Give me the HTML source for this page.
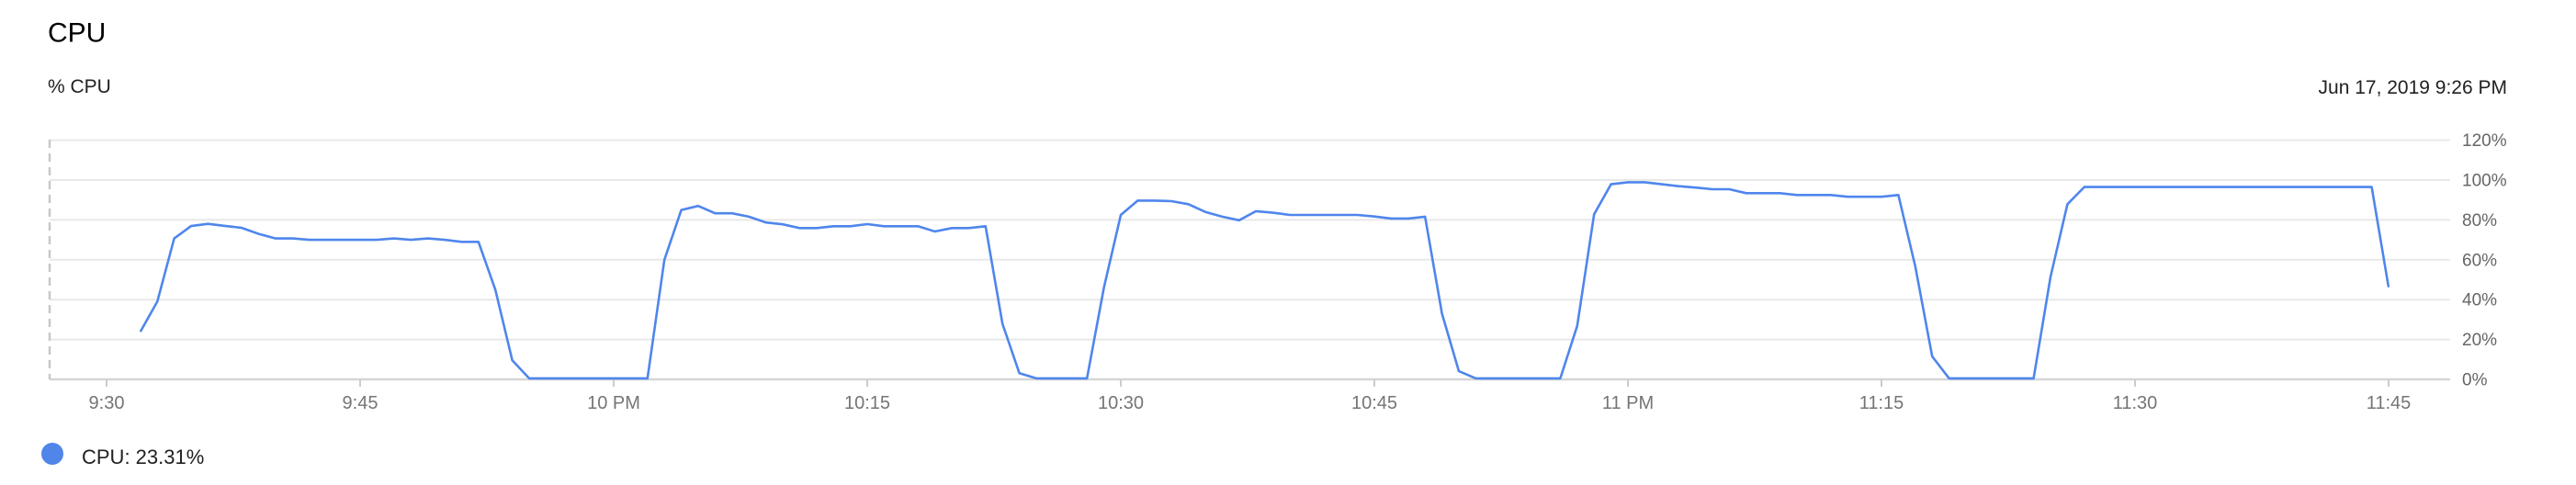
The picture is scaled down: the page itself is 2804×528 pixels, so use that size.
<!DOCTYPE html>
<html><head><meta charset="utf-8">
<style>
html,body{margin:0;padding:0;background:#fff;width:2804px;height:528px;overflow:hidden;font-family:"Liberation Sans",Arial,sans-serif;}
svg{display:block}
</style></head>
<body>
<svg id="chart" width="2804" height="528" viewBox="0 0 2804 528" xmlns="http://www.w3.org/2000/svg">
  <text x="52" y="45.5" font-size="30" fill="#000">CPU</text>
  <text x="52" y="101" font-size="21" fill="#212121">% CPU</text>
  <text x="2729" y="102" font-size="21" fill="#212121" text-anchor="end">Jun 17, 2019 9:26 PM</text>
  <g id="grid"></g>
  <g id="xaxis"></g>
  <g id="yaxis"></g>
  <line x1="54" y1="152" x2="54" y2="413" stroke="#c8c8c8" stroke-width="2.5" stroke-dasharray="9,6"/>
  <g id="series"></g>
  <ellipse cx="57" cy="494" rx="12" ry="12" fill="#5085ea"/>
  <text x="89" y="505" font-size="22" fill="#212121">CPU: 23.31%</text>
</svg>
<script>
// minutes after 9:30 PM
const startMinute = 2;
const cpuValues = [
 23.9,39,70.7,76.9,78,77,76,73,70.7,70.7,70,70,70,70,70,70.7,70,70.7,70,69,69,45,9.6,0.5,0.5,0.5,0.5,0.5,0.5,0.5,0.5,60,85,
 87,83.3,83.3,81.6,78.7,77.8,75.9,75.9,76.8,76.8,77.9,76.8,76.8,76.8,74.2,75.9,75.9,76.8,27.9,3.1,0.5,0.5,0.5,0.5,46,82.5,89.7,89.7,
 89.4,87.9,84,81.6,79.8,84.4,83.6,82.5,82.5,82.5,82.5,82.5,81.7,80.7,80.7,81.6,33,4.1,0.5,0.5,0.5,0.5,0.5,0.5,26.8,82.8,97.9,98.9,98.9,
 97.9,96.9,96.2,95.4,95.4,93.4,93.4,93.4,92.5,92.5,92.5,91.6,91.6,91.6,92.5,56.7,11.5,0.5,0.5,0.5,0.5,0.5,0.5,51.4,87.9,
 96.5,96.5,96.5,96.5,96.5,96.5,96.5,96.5,96.5,96.5,96.5,96.5,96.5,96.5,96.5,96.5,96.5,96.5,46.2
];
const xTickMinutes = [0,15,30,45,60,75,90,105,120,135];
const xTickLabels = ["9:30","9:45","10 PM","10:15","10:30","10:45","11 PM","11:15","11:30","11:45"];
const yTicks = [0,20,40,60,80,100,120];
const yTickLabels = ["0%","20%","40%","60%","80%","100%","120%"];

const NS = "http://www.w3.org/2000/svg";
const X0 = 116, PX_PER_MIN = 18.4;
const Y0 = 413, PX_PER_PCT = 2.17;
const PLOT_L = 54, PLOT_R = 2667;
function xScale(m){ return X0 + m*PX_PER_MIN; }
function yScale(v){ return Y0 - v*PX_PER_PCT; }
function mk(tag, attrs, parent){ const e=document.createElementNS(NS,tag); for(const k in attrs) e.setAttribute(k,attrs[k]); parent.appendChild(e); return e; }

const grid=document.getElementById('grid'), yaxis=document.getElementById('yaxis'), xaxis=document.getElementById('xaxis'), series=document.getElementById('series');
yTicks.forEach((v,i)=>{
  const y=yScale(v);
  const l=mk('line',{x1:PLOT_L,x2:PLOT_R,y1:y,y2:y,stroke:v===0?'#d6d6d6':'#e8e8e8','stroke-width':v===0?2.5:2},grid);
  
  
  const t=mk('text',{x:2680,y:y+6.5,'font-size':19,fill:'#666'},yaxis);
  t.textContent=yTickLabels[i];
  
  
});
xTickMinutes.forEach((m,i)=>{
  const x=xScale(m);
  const l=mk('line',{x1:x,x2:x,y1:Y0,y2:Y0+8,stroke:'#ccc','stroke-width':2},xaxis);
  
  
  const t=mk('text',{x:x,y:445,'font-size':20,fill:'#757575','text-anchor':'middle'},xaxis);
  t.textContent=xTickLabels[i];
  
  
});
const pts=cpuValues.map((v,i)=>xScale(startMinute+i).toFixed(1)+','+yScale(v).toFixed(1)).join(' ');
const pl=mk('polyline',{points:pts,fill:'none',stroke:'#4f86ec','stroke-width':2.6,'stroke-linejoin':'round'},series);


</script>
</body></html>
